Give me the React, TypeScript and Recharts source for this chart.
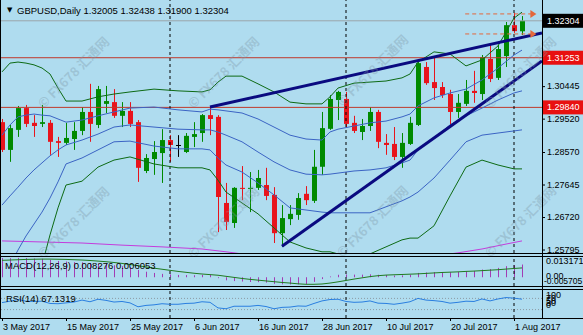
import React from 'react';
import { ComposedChart, Bar, Line, XAxis, YAxis, ReferenceLine } from 'recharts';

// GBPUSD daily, bar 0 = 3 May 2017 ... bar 65 = 2 Aug 2017
const opens = [
  1.2942, 1.2863, 1.292, 1.2982, 1.294, 1.2937, 1.294, 1.2888, 1.2883, 1.2894,
  1.2917, 1.2971, 1.2934, 1.2994, 1.2999, 1.296, 1.2974, 1.2942, 1.2803, 1.2837,
  1.2854, 1.2891, 1.2877, 1.2857, 1.29, 1.2911, 1.2962, 1.2957, 1.2712, 1.2655,
  1.2755, 1.2752, 1.2755, 1.2763, 1.2735, 1.2626, 1.2666, 1.2678, 1.2738, 1.2718,
  1.2815, 1.2923, 1.3005, 1.3008, 1.294, 1.2914, 1.2931, 1.2971, 1.2883, 1.288,
  1.2843, 1.288, 1.2934, 1.3099, 1.3056, 1.3042, 1.3022, 1.2971, 1.2994, 1.3031,
  1.3022, 1.3122, 1.3068, 1.313, 1.3218, 1.32005,
];
const highs = [
  1.2951, 1.2934, 1.2988, 1.2991, 1.2962, 1.2991, 1.2948, 1.29, 1.294, 1.2942,
  1.2985, 1.3051, 1.3045, 1.3045, 1.3036, 1.2999, 1.2999, 1.2948, 1.2851, 1.2888,
  1.2922, 1.2905, 1.2905, 1.2911, 1.2942, 1.2965, 1.2985, 1.2962, 1.2769, 1.2757,
  1.2817, 1.28, 1.2806, 1.2812, 1.2757, 1.2706, 1.2706, 1.274, 1.276, 1.2863,
  1.2971, 1.3019, 1.3031, 1.3028, 1.296, 1.2951, 1.2985, 1.2977, 1.2908, 1.2928,
  1.2911, 1.2957, 1.3113, 1.3113, 1.3127, 1.3056, 1.3034, 1.3022, 1.3062, 1.3088,
  1.3133, 1.3162, 1.3162, 1.3227, 1.3253, 1.32438,
];
const lows = [
  1.2857, 1.2829, 1.29, 1.2928, 1.29, 1.2928, 1.2849, 1.2843, 1.2877, 1.2863,
  1.2905, 1.2886, 1.2925, 1.2968, 1.2954, 1.2928, 1.2928, 1.2772, 1.2797, 1.2792,
  1.2769, 1.2829, 1.2843, 1.2854, 1.2871, 1.2886, 1.2905, 1.2629, 1.2635, 1.2641,
  1.272, 1.2686, 1.2749, 1.272, 1.2598, 1.2587, 1.2649, 1.2664, 1.2706, 1.2712,
  1.2792, 1.292, 1.2948, 1.2928, 1.2911, 1.2891, 1.2917, 1.2868, 1.2849, 1.2834,
  1.2812, 1.2877, 1.2931, 1.3048, 1.3005, 1.3011, 1.2934, 1.2954, 1.2988, 1.2997,
  1.3005, 1.3056, 1.3062, 1.3099, 1.3196, 1.319,
];
const closes = [
  1.2863, 1.2925, 1.2982, 1.2937, 1.2931, 1.2942, 1.2886, 1.2883, 1.2897, 1.2917,
  1.2971, 1.2937, 1.3036, 1.3002, 1.296, 1.2974, 1.2937, 1.2812, 1.284, 1.2857,
  1.2891, 1.2877, 1.2877, 1.2903, 1.2908, 1.2962, 1.2951, 1.2729, 1.2658, 1.2755,
  1.2752, 1.2755, 1.2783, 1.2732, 1.2626, 1.2669, 1.2681, 1.2726, 1.272, 1.2815,
  1.2925, 1.3008, 1.3028, 1.2937, 1.2917, 1.2931, 1.2971, 1.2886, 1.2877, 1.2843,
  1.2883, 1.294, 1.311, 1.3053, 1.3039, 1.3019, 1.2971, 1.2997, 1.3031, 1.3025,
  1.3127, 1.3065, 1.315, 1.3218, 1.3201, 1.32304,
];

// bollinger bands at these bars
const bandBars = [0, 1, 2, 3, 4, 5, 6, 7, 8, 10, 12, 14, 16, 19, 22, 25, 26, 27, 28, 30, 32, 34, 36, 38, 40, 41, 42, 44, 46, 48, 50, 51, 52, 54, 56, 58, 60, 62, 64, 65];
const bbUpper2 = [1.3085, 1.311, 1.3113, 1.311, 1.3105, 1.3096, 1.3079, 1.3039, 1.3002, 1.3002, 1.3014, 1.3022, 1.3028, 1.3036, 1.3031, 1.3028, 1.3034, 1.3056, 1.3073, 1.3073, 1.3051, 1.3028, 1.2999, 1.2994, 1.2994, 1.3014, 1.3039, 1.3053, 1.3056, 1.3059, 1.3068, 1.3079, 1.3113, 1.3142, 1.3136, 1.3102, 1.3119, 1.3159, 1.3238, 1.3255];
const bbUpper1 = [1.2905, 1.2934, 1.2957, 1.2962, 1.2965, 1.2962, 1.296, 1.2951, 1.2942, 1.2948, 1.296, 1.2971, 1.2982, 1.2985, 1.2977, 1.2971, 1.2979, 1.2977, 1.2974, 1.2968, 1.2951, 1.2928, 1.2905, 1.2894, 1.2891, 1.2914, 1.2922, 1.2931, 1.294, 1.2945, 1.2957, 1.2965, 1.2988, 1.3011, 1.3025, 1.3036, 1.3062, 1.3096, 1.3133, 1.3147];
const bbMiddle = [1.2706, 1.2732, 1.2757, 1.2783, 1.2806, 1.2826, 1.2846, 1.2863, 1.2877, 1.2891, 1.2908, 1.2928, 1.2934, 1.2928, 1.2922, 1.292, 1.292, 1.2914, 1.2905, 1.2886, 1.2857, 1.2829, 1.2806, 1.2794, 1.2792, 1.2794, 1.2797, 1.2803, 1.2806, 1.2812, 1.2826, 1.2834, 1.2863, 1.2897, 1.2934, 1.296, 1.2982, 1.3005, 1.3025, 1.3031];
const bbLower1 = [1.2493, 1.2535, 1.2578, 1.2618, 1.2652, 1.2686, 1.2726, 1.2772, 1.2823, 1.284, 1.2863, 1.2886, 1.2888, 1.2874, 1.2866, 1.2866, 1.2863, 1.284, 1.282, 1.28, 1.2769, 1.2735, 1.2698, 1.2692, 1.2686, 1.2684, 1.2684, 1.2684, 1.2684, 1.2701, 1.2718, 1.2729, 1.2743, 1.2783, 1.2834, 1.2886, 1.2905, 1.2911, 1.2917, 1.292];
const bbLower2 = [1.2265, 1.2308, 1.235, 1.2402, 1.245, 1.2535, 1.2621, 1.2698, 1.2763, 1.2774, 1.2814, 1.2834, 1.2843, 1.2823, 1.2812, 1.2812, 1.2806, 1.2777, 1.2743, 1.2712, 1.2681, 1.2641, 1.2601, 1.2584, 1.2573, 1.2573, 1.2567, 1.2564, 1.2567, 1.2587, 1.2607, 1.2612, 1.2612, 1.2647, 1.2732, 1.2814, 1.2834, 1.282, 1.2809, 1.2809];

// slow moving average (magenta)
const maBars = [0, 5, 10, 15, 20, 25, 28, 32, 40, 48, 54, 57, 60, 63, 65];
const maValues = [1.2604, 1.2601, 1.2598, 1.2592, 1.2587, 1.2581, 1.2573, 1.2561, 1.2553, 1.2553, 1.2561, 1.257, 1.2581, 1.2595, 1.2604];

const macdMain = [
  0.0125, 0.0124, 0.0126, 0.0125, 0.0122, 0.012, 0.0113, 0.0106, 0.0102, 0.0098,
  0.0097, 0.0091, 0.0089, 0.0085, 0.0078, 0.0072, 0.0064, 0.0048, 0.0036, 0.0028,
  0.0022, 0.0018, 0.0015, 0.0014, 0.0013, 0.0015, 0.0015, -0.0006, -0.002, -0.0025,
  -0.0028, -0.0031, -0.0032, -0.0035, -0.0043, -0.0046, -0.0047, -0.0046, -0.0044, -0.003,
  -0.0012, 0.0005, 0.0016, 0.0018, 0.0017, 0.0017, 0.0019, 0.0016, 0.0014, 0.0011,
  0.0012, 0.0016, 0.0028, 0.0031, 0.0033, 0.0034, 0.0032, 0.0034, 0.0038, 0.0041,
  0.005, 0.0053, 0.0061, 0.0072, 0.0078, 0.008276,
];
const macdSignal = [
  0.011, 0.0112, 0.0114, 0.0116, 0.0117, 0.0118, 0.0118, 0.0117, 0.0116, 0.0114,
  0.0112, 0.0109, 0.0105, 0.0101, 0.0096, 0.009, 0.0083, 0.0075, 0.0067, 0.0059,
  0.0052, 0.0045, 0.0038, 0.0032, 0.0026, 0.0021, 0.0017, 0.0013, 0.0006, -0.0001,
  -0.0008, -0.0014, -0.0019, -0.0024, -0.0029, -0.0034, -0.0038, -0.0043, -0.0046, -0.0046,
  -0.0044, -0.0038, -0.003, -0.0021, -0.0012, -0.0004, 0.0004, 0.001, 0.0014, 0.0016,
  0.0018, 0.002, 0.0022, 0.0025, 0.0028, 0.0031, 0.0033, 0.0035, 0.0038, 0.004,
  0.0043, 0.0046, 0.0049, 0.0053, 0.0057, 0.006053,
];
const rsiValues = [
  55, 60, 66, 60, 59, 60, 52, 51, 54, 57,
  64, 58, 67, 63, 57, 59, 54, 40, 45, 47,
  51, 49, 49, 52, 53, 58, 56, 36, 33, 42,
  42, 42, 45, 41, 33, 38, 39, 43, 42, 52,
  61, 66, 67, 59, 56, 57, 61, 53, 52, 49,
  53, 58, 70, 64, 62, 59, 53, 56, 60, 59,
  68, 61, 68, 73, 71, 67.1319,
];

const dateTickBars = [0, 8, 16, 24, 32, 40, 48, 56, 64];
const dateLabels = ['3 May 2017', '15 May 2017', '25 May 2017', '6 Jun 2017', '16 Jun 2017', '28 Jun 2017', '10 Jul 2017', '20 Jul 2017', '1 Aug 2017'];
const monthStartBars = [21, 43, 64];

const priceTicks = [1.32304, 1.31253, 1.30445, 1.2984, 1.2952, 1.2857, 1.27645, 1.2672, 1.25795];
const bidPrice = 1.32304;
const levelPrices = [1.31253, 1.2984];
const trendLines = [
  { from: [26, 1.2985], to: [67.5, 1.3196] },
  { from: [35, 1.2589], to: [67.5, 1.3116] },
];
const arrowLevels = [1.325, 1.3193];
const arrowSpan = [57.9, 66.8];

const macdTicks = [0.013171, 0, -0.005705];
const rsiTicks = [100, 70, 50, 30, 0];

const X_DOMAIN = [-0.25, 67.5];
const FONT = "'Liberation Sans', Arial, sans-serif";
const BG = '#afdcef';
const BULL = '#008a00';
const BEAR = '#e8141c';
const BAND_OUT = '#0d6a14';
const BAND_IN = '#3b64c4';
const MA_COLOR = '#c43cdc';
const LEVEL = '#c0392b';
const TREND = '#0a0a80';
const ARROW = '#e4683c';

const mainData: any[] = opens.map((o, i) => ({ i, o, h: highs[i], l: lows[i], c: closes[i], range: [lows[i], highs[i]] }));
const bandData = bandBars.map((b, k) => ({ i: b, gu: bbUpper2[k], bu: bbUpper1[k], mid: bbMiddle[k], bl: bbLower1[k], gl: bbLower2[k] }));
const maData = maBars.map((b, k) => ({ i: b, ma: maValues[k] }));
const macdData = macdMain.map((m, i) => ({ i, macd: m, signal: macdSignal[i] }));
const rsiData = rsiValues.map((r, i) => ({ i, rsi: r }));

function Candle(props: any) {
  const { x, y, width, height, payload } = props;
  if (x == null || payload == null) return null;
  const top = Math.min(y, y + height);
  const span = Math.abs(height);
  const { o, h, l, c } = payload;
  const k = span / (h - l);
  const cx = Math.round(x + width / 2);
  const bTop = top + (h - Math.max(o, c)) * k;
  const bBot = top + (h - Math.min(o, c)) * k;
  const color = c > o ? BULL : c < o ? BEAR : '#000';
  return (
    <g>
      <line x1={cx + 0.5} x2={cx + 0.5} y1={top} y2={top + span} stroke={color} />
      <rect x={cx - 2} y={bTop} width={5} height={Math.max(bBot - bTop, 1)} fill={color} />
    </g>
  );
}

function HistBar(props: any) {
  const { x, y, width, height } = props;
  if (x == null) return null;
  return <rect x={Math.round(x + width / 2)} y={Math.min(y, y + height)} width={1} height={Math.abs(height)} fill="#a23cb4" />;
}

function Arrow(p: any) {
  const { x1, y1, x2, y2 } = p;
  return (
    <g>
      <line x1={x1} y1={y1} x2={x2 - 4} y2={y2} stroke={ARROW} strokeDasharray="4 3" />
      <path d={`M${x2 - 6},${y2 - 4} L${x2},${y2} L${x2 - 6},${y2 + 4} Z`} fill={ARROW} />
    </g>
  );
}

const boxFill: Record<string, string> = { '1.32304': '#000', '1.31253': '#e81010', '1.2984': '#e81010' };

function PriceTick(p: any) {
  const { x, y, payload } = p;
  const fill = boxFill[String(payload.value)];
  return (
    <g>
      <line x1={x} x2={x + 3} y1={y + 0.5} y2={y + 0.5} stroke="#000" />
      {fill && <rect x={x + 1} y={y - 7} width={41} height={14} fill={fill} />}
      <text x={x + 5} y={y} dominantBaseline="central" fontSize={9} fontFamily={FONT} fill={fill ? '#fff' : '#000'}>
        {payload.value.toFixed(5)}
      </text>
    </g>
  );
}

const macdShift: Record<string, number[]> = { '0.013171': [4, 4], '0': [4, -1], '-0.005705': [2, -5] };
function MacdTick(p: any) {
  const { x, y, payload } = p;
  const v = payload.value;
  const [dx, dy] = macdShift[String(v)];
  return (
    <text x={x + dx} y={y + dy} dominantBaseline="central" fontSize={v < 0 ? 8.5 : 9} fontFamily={FONT} fill="#000">
      {v === 0 ? '0.00' : String(v)}
    </text>
  );
}

const rsiShift: Record<string, number> = { '100': 5, '70': 0, '50': -3, '30': -7, '0': -13 };
function RsiTick(p: any) {
  const { x, y, payload } = p;
  return (
    <text x={x + 4} y={y + rsiShift[String(payload.value)]} dominantBaseline="central" fontSize={9} fontFamily={FONT} fill="#000">
      {payload.value}
    </text>
  );
}

function DateTick(p: any) {
  const { x, y, payload } = p;
  const label = dateLabels[dateTickBars.indexOf(payload.value)];
  return (
    <g>
      <line x1={x + 0.5} x2={x + 0.5} y1={y} y2={y + 3} stroke="#000" />
      <text x={x + 1} y={y + 9} dominantBaseline="central" fontSize={9} fontFamily={FONT} fill="#000">
        {label}
      </text>
    </g>
  );
}

const noMargin = { top: 0, right: 0, bottom: 0, left: 0 };
const watermarks = [
  [73, 72], [223, 72], [372, 70], [520, 72],
  [73, 222], [223, 222], [372, 221], [520, 221],
];

const lineProps = { type: 'linear' as const, dot: false, activeDot: false, isAnimationActive: false };

export default function App() {
  return (
    <div style={{ position: 'absolute', left: 0, top: 0, width: 583, height: 335, background: BG, overflow: 'hidden' }}>
      <div style={{ position: 'absolute', left: 0, top: 0 }}>
        <ComposedChart width={583} height={260} data={mainData} margin={{ top: 0, right: 0, bottom: 7, left: 0 }}>
          <XAxis type="number" dataKey="i" domain={X_DOMAIN} hide allowDataOverflow />
          <YAxis orientation="right" width={41} domain={[1.25696, 1.32896]} allowDataOverflow ticks={priceTicks} interval={0}
            tick={(p: any) => <PriceTick {...p} />} tickLine={false} axisLine={false} tickSize={0} tickMargin={0} />
          <ReferenceLine y={bidPrice} stroke="#9aa4aa" />
          {levelPrices.map((v) => <ReferenceLine key={v} y={v} stroke={LEVEL} />)}
          {monthStartBars.map((b) => <ReferenceLine key={b} x={b} stroke="#000" strokeDasharray="3 3" />)}
          <Bar dataKey="range" shape={(p: any) => <Candle {...p} />} isAnimationActive={false} barSize={5} />
          <Line {...lineProps} data={maData} dataKey="ma" stroke={MA_COLOR} />
          <Line {...lineProps} data={bandData} dataKey="gu" stroke={BAND_OUT} />
          <Line {...lineProps} data={bandData} dataKey="gl" stroke={BAND_OUT} />
          <Line {...lineProps} data={bandData} dataKey="bu" stroke={BAND_IN} />
          <Line {...lineProps} data={bandData} dataKey="mid" stroke={BAND_IN} />
          <Line {...lineProps} data={bandData} dataKey="bl" stroke={BAND_IN} />
          {trendLines.map((t, k) => (
            <ReferenceLine key={k} segment={[{ x: t.from[0], y: t.from[1] }, { x: t.to[0], y: t.to[1] }]} stroke={TREND} strokeWidth={3} ifOverflow="hidden" />
          ))}
          {arrowLevels.map((v) => (
            <ReferenceLine key={v} segment={[{ x: arrowSpan[0], y: v }, { x: arrowSpan[1], y: v }]} shape={(p: any) => <Arrow {...p} />} />
          ))}
        </ComposedChart>
      </div>
      <div style={{ position: 'absolute', left: 0, top: 257 }}>
        <ComposedChart width={583} height={29} data={macdData} margin={noMargin}>
          <XAxis type="number" dataKey="i" domain={X_DOMAIN} hide allowDataOverflow />
          <YAxis orientation="right" width={41} domain={[-0.005705, 0.013171]} allowDataOverflow ticks={macdTicks} interval={0}
            tick={(p: any) => <MacdTick {...p} />} tickLine={false} axisLine={false} tickSize={0} tickMargin={0} />
          {monthStartBars.map((b) => <ReferenceLine key={b} x={b} stroke="#000" strokeDasharray="3 3" />)}
          <Bar dataKey="macd" shape={(p: any) => <HistBar {...p} />} isAnimationActive={false} barSize={1} />
          <Line {...lineProps} dataKey="signal" stroke="#1f7a1f" />
        </ComposedChart>
      </div>
      <div style={{ position: 'absolute', left: 0, top: 290 }}>
        <ComposedChart width={583} height={45} data={rsiData} margin={noMargin}>
          <XAxis type="number" dataKey="i" domain={X_DOMAIN} allowDataOverflow ticks={dateTickBars} interval={0} height={17}
            tick={(p: any) => <DateTick {...p} />} tickLine={false} axisLine={false} tickSize={0} tickMargin={0} />
          <YAxis orientation="right" width={41} domain={[0, 100]} allowDataOverflow ticks={rsiTicks} interval={0}
            tick={(p: any) => <RsiTick {...p} />} tickLine={false} axisLine={false} tickSize={0} tickMargin={0} />
          <ReferenceLine y={70} stroke="#8c9aa4" strokeDasharray="1 2" />
          <ReferenceLine y={30} stroke="#8c9aa4" strokeDasharray="1 2" />
          {monthStartBars.map((b) => <ReferenceLine key={b} x={b} stroke="#000" strokeDasharray="3 3" />)}
          <Line {...lineProps} dataKey="rsi" stroke="#2a7fe0" />
        </ComposedChart>
      </div>
      <svg width={583} height={335} style={{ position: 'absolute', left: 0, top: 0, pointerEvents: 'none' }}>
        {watermarks.map(([x, y], k) => (
          <text key={k} x={x} y={y} transform={`rotate(-45 ${x} ${y})`} textAnchor="middle" dominantBaseline="central"
            fontSize={13} fontWeight="bold" fontFamily="'Noto Sans CJK SC', 'DejaVu Sans', sans-serif" fill="#7d96a6" fillOpacity={0.35}>
            © FX678 汇通网
          </text>
        ))}
        <line x1={0.5} x2={0.5} y1={0} y2={319} stroke="#000" />
        <line x1={542.5} x2={542.5} y1={0} y2={319} stroke="#000" />
        {[253.5, 256.5, 286.5, 289.5, 318.5].map((y) => (
          <line key={y} x1={0} x2={583} y1={y} y2={y} stroke="#000" />
        ))}
        <text x={7} y={10} dominantBaseline="central" fontSize={7} fontFamily="'DejaVu Sans', sans-serif" fill="#000">▼</text>
        <text x={17} y={10} dominantBaseline="central" fontSize={9.5} fontFamily={FONT} fill="#000">
          GBPUSD,Daily  1.32005 1.32438 1.31900 1.32304
        </text>
        <text x={5} y={265} dominantBaseline="central" fontSize={9.5} fontFamily={FONT} fill="#000">
          MACD(12,26,9) 0.008276 0.006053
        </text>
        <text x={6} y={298} dominantBaseline="central" fontSize={9.5} fontFamily={FONT} fill="#000">
          RSI(14) 67.1319
        </text>
      </svg>
    </div>
  );
}
